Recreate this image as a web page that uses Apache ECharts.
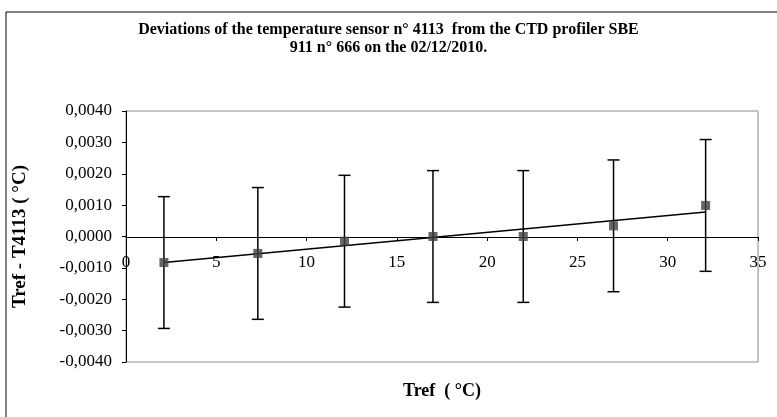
<!DOCTYPE html>
<html>
<head>
<meta charset="utf-8">
<script src="https://cdn.jsdelivr.net/npm/echarts@6/dist/echarts.min.js"></script>
<style>html,body{margin:0;padding:0;background:#fff}#c{width:777px;height:417px}</style>
</head>
<body>
<div id="c"></div>
<script>
var tref = [2.1, 7.3, 12.1, 17.0, 22.0, 27.0, 32.1];
var deviation = [-0.00083, -0.00054, -0.00015, 0.0000, 0.0000, 0.00034, 0.00099];
var errorMargin = [0.0021, 0.0021, 0.0021, 0.0021, 0.0021, 0.0021, 0.0021];
var trendX = [2.1, 32.1];
var trendY = [-0.00083, 0.00078];
var titleText = 'Deviations of the temperature sensor n° 4113  from the CTD profiler SBE\n911 n° 666 on the 02/12/2010.';
var xTitle = 'Tref  ( °C)';
var yTitle = 'Tref - T4113 ( °C)';

var FONT = 'Liberation Serif';
var points = tref.map(function (x, i) { return [x, deviation[i]]; });
var bars = tref.map(function (x, i) { return [x, deviation[i] - errorMargin[i], deviation[i] + errorMargin[i]]; });
var trend = trendX.map(function (x, i) { return [x, trendY[i]]; });

var chart = echarts.init(document.getElementById('c'), null, {renderer: 'canvas'});
chart.setOption({
  animation: false,
  backgroundColor: '#fff',
  title: {
    text: titleText, left: 'center', top: 16,
    textStyle: {fontFamily: FONT, fontWeight: 'bold', fontSize: 16, lineHeight: 18, color: '#000'}
  },
  graphic: [{
    type: 'rect', shape: {x: 6, y: 12, width: 800, height: 430},
    style: {fill: null, stroke: '#000', lineWidth: 1}, silent: true, z: -1
  }],
  grid: {left: 126, right: 19, top: 111, bottom: 55, show: true, borderColor: '#8c8c8c', borderWidth: 1, backgroundColor: 'transparent'},
  xAxis: {
    type: 'value', min: 0, max: 35, interval: 5,
    position: 'bottom', offset: -125,
    name: xTitle, nameLocation: 'middle', nameGap: 145,
    nameTextStyle: {fontFamily: FONT, fontWeight: 'bold', fontSize: 18, color: '#000'},
    axisLine: {show: true, onZero: false, lineStyle: {color: '#000', width: 1}},
    axisTick: {show: true, inside: false, length: 4, lineStyle: {color: '#000'}},
    axisLabel: {fontFamily: FONT, fontSize: 17, color: '#000', margin: 17},
    splitLine: {show: false}
  },
  yAxis: {
    type: 'value', min: -0.004, max: 0.004, interval: 0.001,
    name: yTitle, nameLocation: 'middle', nameGap: 96, nameRotate: 90,
    nameTextStyle: {fontFamily: FONT, fontWeight: 'bold', fontSize: 19, color: '#000'},
    axisLine: {show: true, onZero: false, lineStyle: {color: '#000', width: 1}},
    axisTick: {show: true, inside: false, length: 4, lineStyle: {color: '#000'}},
    axisLabel: {fontFamily: FONT, fontSize: 17, color: '#000', margin: 14,
      formatter: function (v) { return v.toFixed(4).replace('.', ','); }},
    splitLine: {show: false}
  },
  series: [
    {
      type: 'custom', data: bars, z: 3,
      renderItem: function (params, api) {
        var x = api.value(0);
        var lo = api.coord([x, api.value(1)]);
        var hi = api.coord([x, api.value(2)]);
        var w = 6;
        var st = {stroke: '#000', lineWidth: 1.5};
        return {type: 'group', children: [
          {type: 'line', shape: {x1: hi[0], y1: hi[1], x2: lo[0], y2: lo[1]}, style: st},
          {type: 'line', shape: {x1: hi[0] - w, y1: hi[1], x2: hi[0] + w, y2: hi[1]}, style: st},
          {type: 'line', shape: {x1: lo[0] - w, y1: lo[1], x2: lo[0] + w, y2: lo[1]}, style: st}
        ]};
      }
    },
    {
      type: 'line', data: trend, symbol: 'none', z: 4,
      lineStyle: {color: '#000', width: 1.5}
    },
    {
      type: 'scatter', data: points, symbol: 'rect', symbolSize: 9, z: 5,
      itemStyle: {color: '#404040'}
    }
  ]
});
</script>
</body>
</html>
